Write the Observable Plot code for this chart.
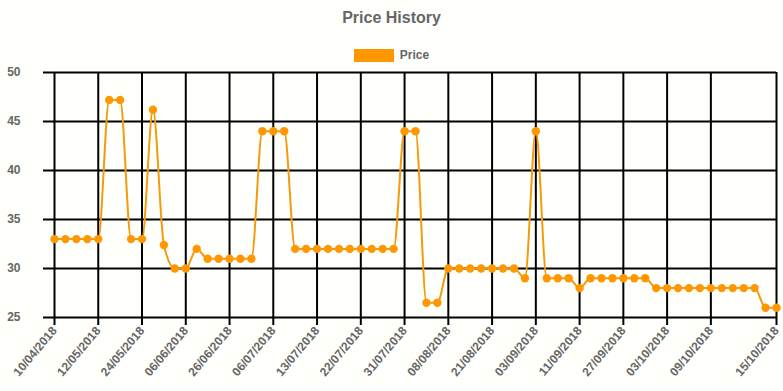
<!DOCTYPE html>
<html>
<head>
<meta charset="utf-8">
<script src="https://cdn.jsdelivr.net/npm/d3@7"></script>
<script src="https://cdn.jsdelivr.net/npm/@observablehq/plot@0.6"></script>
<style>
  html, body { margin: 0; padding: 0; background: #fffffc; }
  #wrap { position: relative; width: 783px; height: 391px; font-family: "Liberation Sans", Arial, sans-serif; }
  #title { position: absolute; left: 0; top: 9px; width: 783px; text-align: center; font-weight: bold; font-size: 16px; color: #666; line-height: 18px; }
  #legend { position: absolute; left: 0; top: 48px; width: 783px; display: flex; justify-content: center; align-items: center; font-size: 12px; font-weight: bold; color: #666; }
  #legend .box { width: 40px; height: 13px; background: #ff9800; margin-right: 6px; }
  #chart { position: absolute; left: 0; top: 64px; }
</style>
</head>
<body>
<div id="wrap">
  <div id="title">Price History</div>
  <div id="legend"><span class="box"></span><span>Price</span></div>
  <div id="chart"></div>
</div>
<script>
// Price per observation (category axis, evenly spaced)
const prices = [
  33, 33, 33, 33, 33, 47.2, 47.2, 33, 33, 46.2,
  32.4, 30, 30, 32, 31, 31, 31, 31, 31, 44,
  44, 44, 32, 32, 32, 32, 32, 32, 32, 32,
  32, 32, 44, 44, 26.5, 26.5, 30, 30, 30, 30,
  30, 30, 30, 29, 44, 29, 29, 29, 28, 29,
  29, 29, 29, 29, 29, 28, 28, 28, 28, 28,
  28, 28, 28, 28, 28, 26, 26
];
// Visible x tick labels and the observation they belong to
const tickPositions = [0, 4, 8, 12, 16, 20, 24, 28, 32, 36, 40, 44, 48, 52, 56, 60, 66];
const tickLabels = [
  "10/04/2018", "12/05/2018", "24/05/2018", "06/06/2018", "26/06/2018", "06/07/2018",
  "13/07/2018", "22/07/2018", "31/07/2018", "08/08/2018", "21/08/2018", "03/09/2018",
  "11/09/2018", "27/09/2018", "03/10/2018", "09/10/2018", "15/10/2018"
];
const yTicks = [25, 30, 35, 40, 45, 50];

const data = prices.map((p, i) => ({i, p}));
const labelOf = new Map(tickPositions.map((t, k) => [t, tickLabels[k]]));

const chart = Plot.plot({
  width: 783,
  height: 327,
  marginTop: 8,
  marginBottom: 74,
  marginLeft: 54,
  marginRight: 7,
  style: {background: "transparent", fontFamily: "Liberation Sans, Arial, sans-serif"},
  x: {domain: [0, prices.length - 1]},
  y: {domain: [25, 50]},
  marks: [
    Plot.gridX(tickPositions, {stroke: "black", strokeOpacity: 1, strokeWidth: 2}),
    Plot.gridY(yTicks, {stroke: "black", strokeOpacity: 1, strokeWidth: 2}),
    Plot.axisX(tickPositions, {
      tickSize: 8, tickPadding: 3, tickRotate: -50, label: null,
      tickFormat: d => labelOf.get(d),
      stroke: "black", strokeWidth: 2, fill: "#666",
      fontSize: 12, fontWeight: "bold"
    }),
    Plot.axisY(yTicks, {
      tickSize: 11, tickPadding: 23, label: null,
      stroke: "black", strokeWidth: 2, fill: "#666",
      fontSize: 12, fontWeight: "bold"
    }),
    Plot.line(data, {x: "i", y: "p", stroke: "#f59a0c", strokeWidth: 2, curve: "monotone-x"}),
    Plot.dot(data, {x: "i", y: "p", r: 4.2, fill: "#ff9800", stroke: "none"})
  ]
});
document.getElementById("chart").appendChild(chart);
</script>
</body>
</html>
